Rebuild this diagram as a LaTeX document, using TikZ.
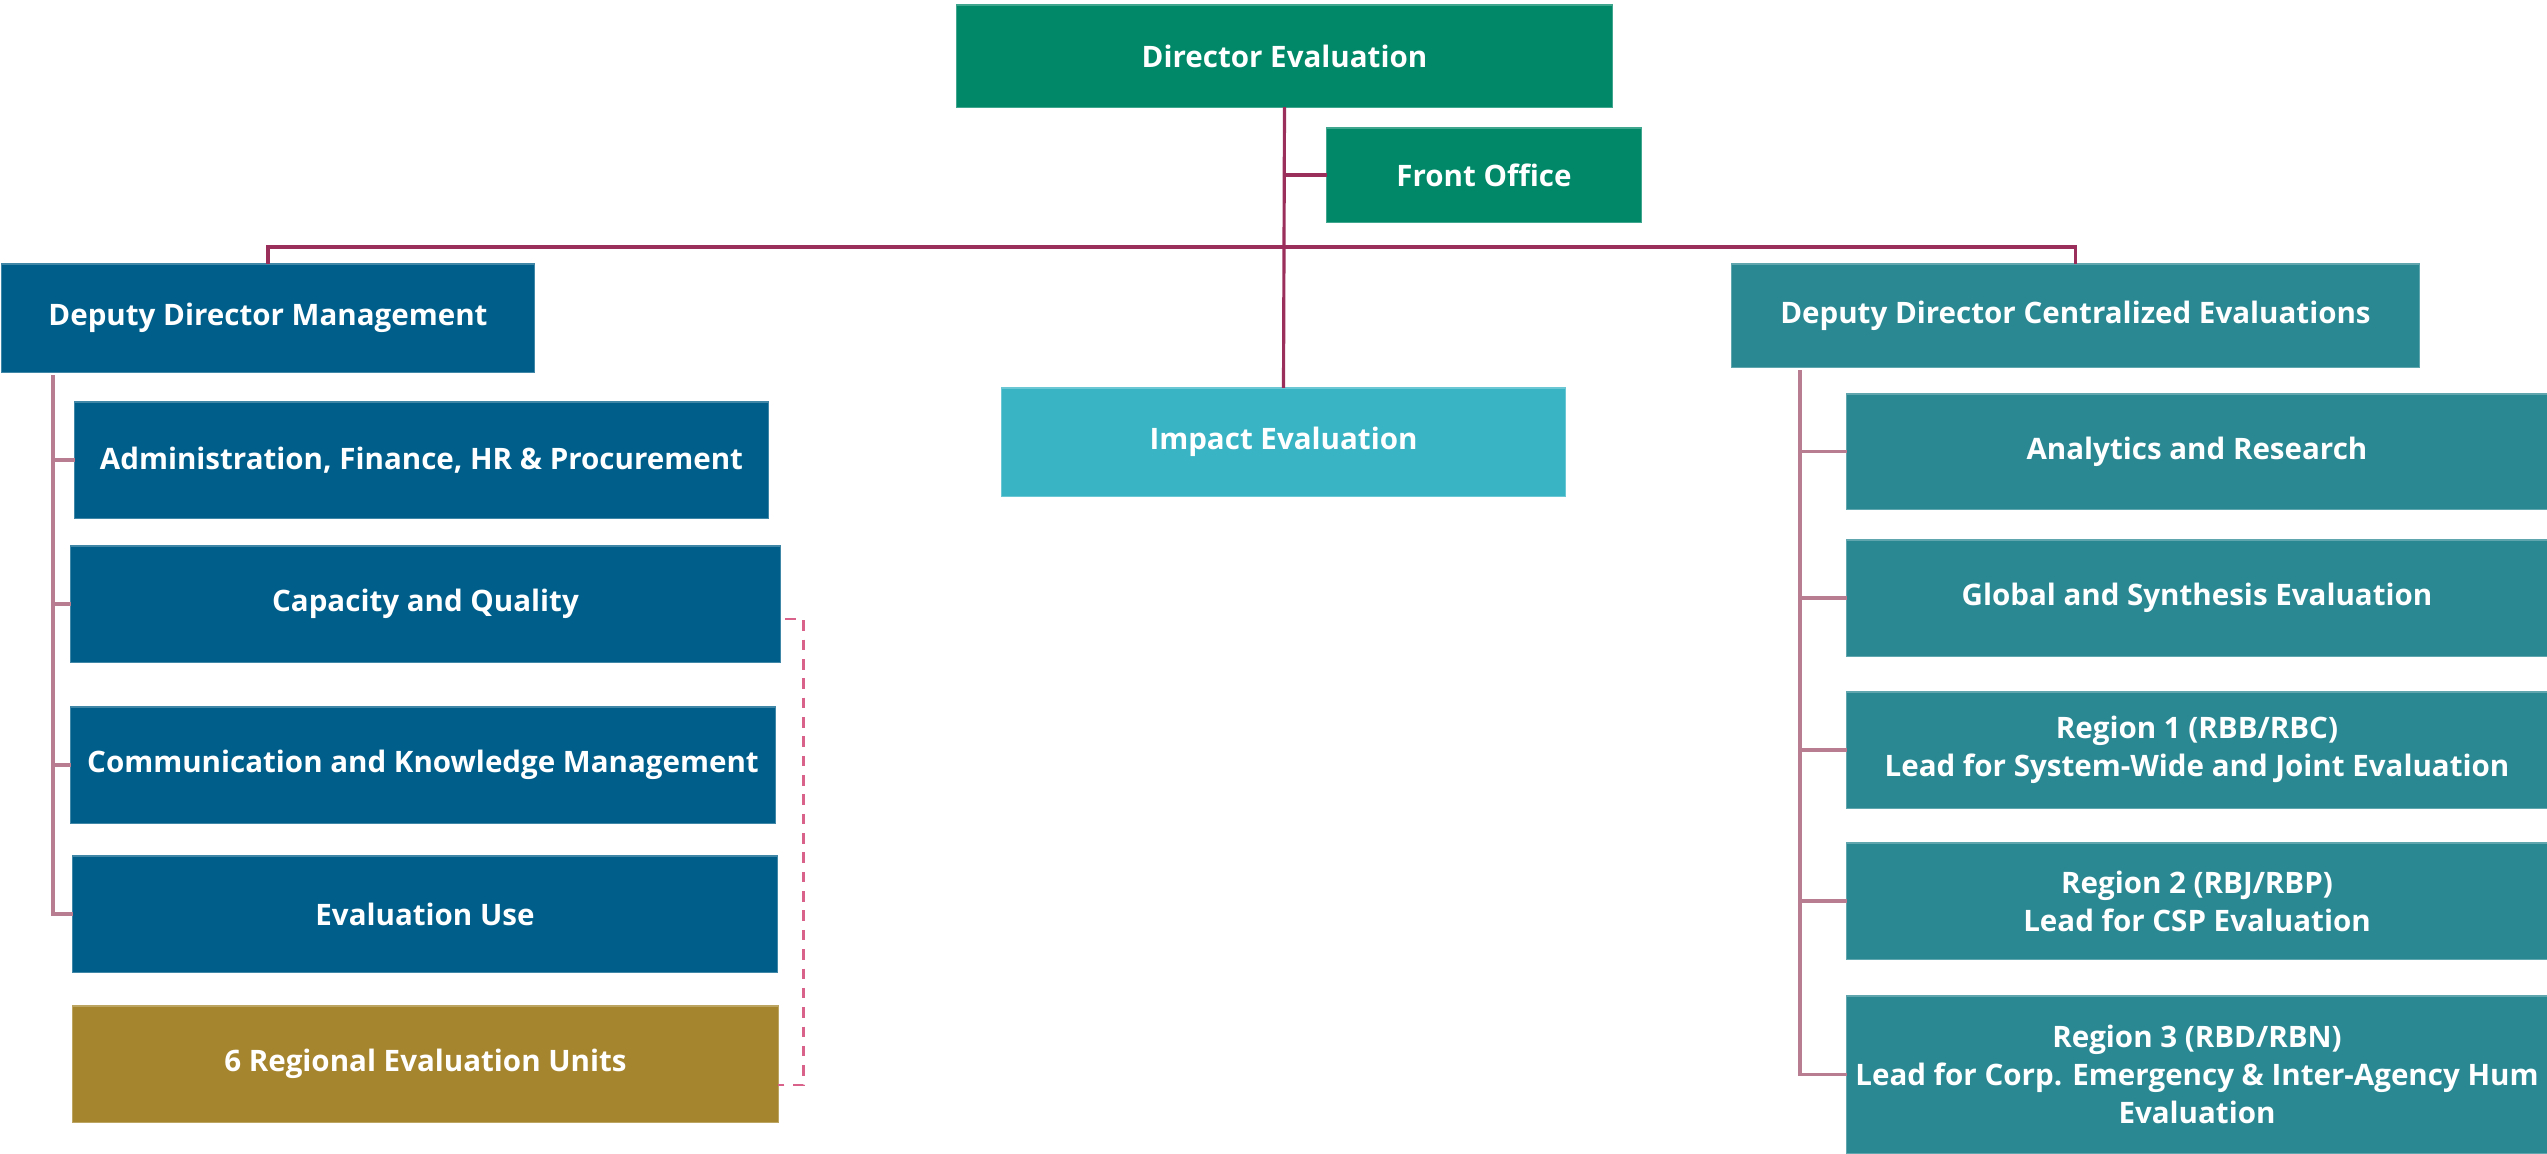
\documentclass[tikz,border=0pt]{standalone}
\usepackage{fontspec}
\setmainfont{Open Sans}
\usepackage{tikz}
\usetikzlibrary{positioning, calc}
\definecolor{xgreen}{HTML}{008868}
\definecolor{xblue}{HTML}{005E8A}
\definecolor{xteal}{HTML}{2A8893}
\definecolor{xcyan}{HTML}{38B4C4}
\definecolor{xgold}{HTML}{A6852F}
\definecolor{xmaroon}{HTML}{9B2F5B}
\definecolor{xmauve}{HTML}{B97D91}
\definecolor{xpink}{HTML}{D9628A}
\tikzset{
	unit/.style={rectangle, inner sep=0pt, outer sep=0pt, text=white, align=center,
		font=\fontsize{8.4}{10.8}\selectfont\bfseries, draw=#1!75!white, line width=0.3pt, fill=#1},
	mainline/.style={xmaroon, line width=0.9pt},
	subline/.style={xmauve, line width=0.9pt},
	dashline/.style={xpink, line width=0.8pt, dash pattern=on 3pt off 2.5pt},
}

\begin{document}
\begin{tikzpicture}[x=0.01cm, y=-0.01cm]
	\useasboundingbox (0,0) rectangle (2547,1153);

	% top
	\node[unit=xgreen, minimum width=6.55cm, minimum height=1.02cm] (dir) at (1284.5,56) {Director Evaluation};
	\node[unit=xgreen, minimum width=3.14cm, minimum height=0.94cm] (fo) at (1484,175) {Front Office};
	\node[unit=xcyan, minimum width=5.63cm, minimum height=1.08cm] (imp) at (1283.5,442) {Impact Evaluation};

	% management side
	\node[unit=xblue, minimum width=5.32cm, minimum height=1.08cm] (ddm) at (268,318) {Deputy Director Management};
	\node[unit=xblue, minimum width=6.93cm, minimum height=1.16cm] (adm) at (421.5,460) {Administration, Finance, HR \& Procurement};
	\node[unit=xblue, minimum width=7.09cm, minimum height=1.16cm] (cap) at (425.5,604) {Capacity and Quality};
	\node[unit=xblue, minimum width=7.04cm, minimum height=1.16cm] (com) at (423,765) {Communication and Knowledge Management};
	\node[unit=xblue, minimum width=7.04cm, minimum height=1.16cm] (use) at (425,914) {Evaluation Use};
	\node[unit=xgold, minimum width=7.05cm, minimum height=1.16cm] (reu) at (425.5,1064) {6 Regional Evaluation Units};

	% centralized side
	\node[unit=xteal, minimum width=6.87cm, minimum height=1.03cm] (ddc) at (2075.5,315.5) {Deputy Director Centralized Evaluations};
	\node[unit=xteal, minimum width=7cm, minimum height=1.15cm] (ana) at (2197,451.5) {Analytics and Research};
	\node[unit=xteal, minimum width=7cm, minimum height=1.16cm] (glo) at (2197,598) {Global and Synthesis Evaluation};
	\node[unit=xteal, minimum width=7cm, minimum height=1.16cm] (rg1) at (2197,750) {Region 1 (RBB/RBC)\\Lead for System-Wide and Joint Evaluation};
	\node[unit=xteal, minimum width=7cm, minimum height=1.16cm] (rg2) at (2197,901) {Region 2 (RBJ/RBP)\\Lead for CSP Evaluation};
	\node[unit=xteal, minimum width=7cm, minimum height=1.57cm] (rg3) at (2197,1074.5) {Region 3 (RBD/RBN)\\Lead for Corp. Emergency \& Inter-Agency Hum\\Evaluation};

	\coordinate (bus) at (1285,247);
	\coordinate (lrail) at (53,375);
	\coordinate (rrail) at (1800,370);

	\draw[mainline] (dir.south) -- (imp.north);
	\draw[mainline] (dir.south |- fo.west) -- (fo.west);
	\draw[mainline] (ddm.north) |- (bus) -| (ddc.north);

	\draw[subline] (lrail) |- (use.west);
	\foreach \n in {adm, cap, com}
		\draw[subline] (lrail |- \n.west) -- (\n.west);

	\draw[subline] (rrail) |- (rg3.west);
	\foreach \n in {ana, glo, rg1, rg2}
		\draw[subline] (rrail |- \n.west) -- (\n.west);

	\draw[dashline] ($(cap.east)+(5,15)$) -| ($(cap.east)+(23,15)$) |- ($(reu.east)+(0,21)$);
\end{tikzpicture}
\end{document}
